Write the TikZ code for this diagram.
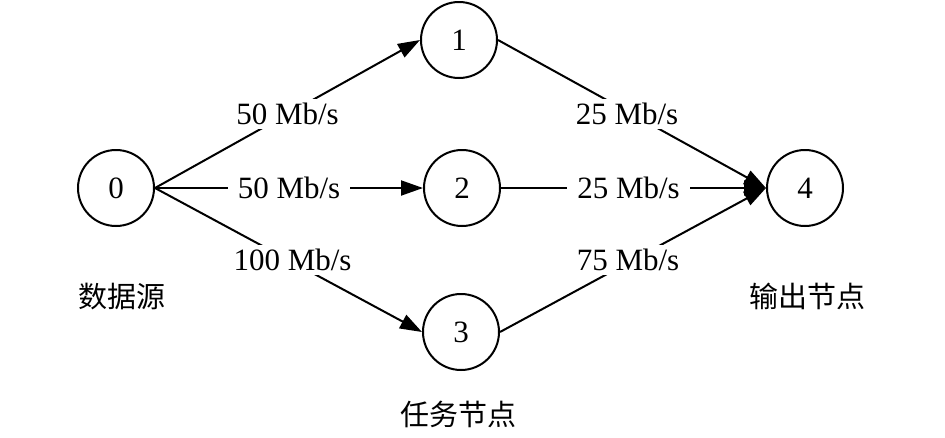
\documentclass[tikz,border=0pt]{standalone}
\usepackage{fontspec}
\setmainfont{Liberation Serif}
\newfontfamily\cjk{Noto Sans CJK SC}
\usetikzlibrary{arrows.meta}
\begin{document}
\begin{tikzpicture}[x=1pt,y=-1pt,
  vertex/.style={circle, draw, line width=2pt, minimum size=76pt, inner sep=0pt, font=\fontsize{31}{37}\selectfont},
  rate/.style={fill=white, inner xsep=10pt, inner ysep=4pt, font=\fontsize{31}{37}\selectfont},
  caption/.style={inner sep=0pt, font=\cjk\fontsize{29}{34}\selectfont},
  flow/.style={line width=2pt, -{Triangle[length=22pt,width=15pt]}}]
\useasboundingbox (0,0) rectangle (945,437);
\node[vertex] (n0) at (116,188) {0};
\node[vertex] (n1) at (459,40) {1};
\node[vertex] (n2) at (462,188) {2};
\node[vertex] (n3) at (461,332) {3};
\node[vertex] (n4) at (805,188) {4};
\draw[flow] (n0.east) -- (n1.west) node[midway, rate] {50 Mb/s};
\draw[flow] (n0.east) -- (n2.west) node[midway, rate] {50 Mb/s};
\draw[flow] (n0.east) -- (n3.west) node[midway, rate, xshift=4pt] {100 Mb/s};
\draw[flow] (n1.east) -- (n4.west) node[midway, rate, xshift=-5pt] {25 Mb/s};
\draw[flow] (n2.east) -- (n4.west) node[midway, rate, xshift=-5pt] {25 Mb/s};
\draw[flow] (n3.east) -- (n4.west) node[midway, rate, xshift=-5pt] {75 Mb/s};
\node[caption] (c0) at (122,297) {数据源};
\node[caption] (c4) at (807,296) {输出节点};
\node[caption] (c2) at (458,414) {任务节点};
\end{tikzpicture}
\end{document}
